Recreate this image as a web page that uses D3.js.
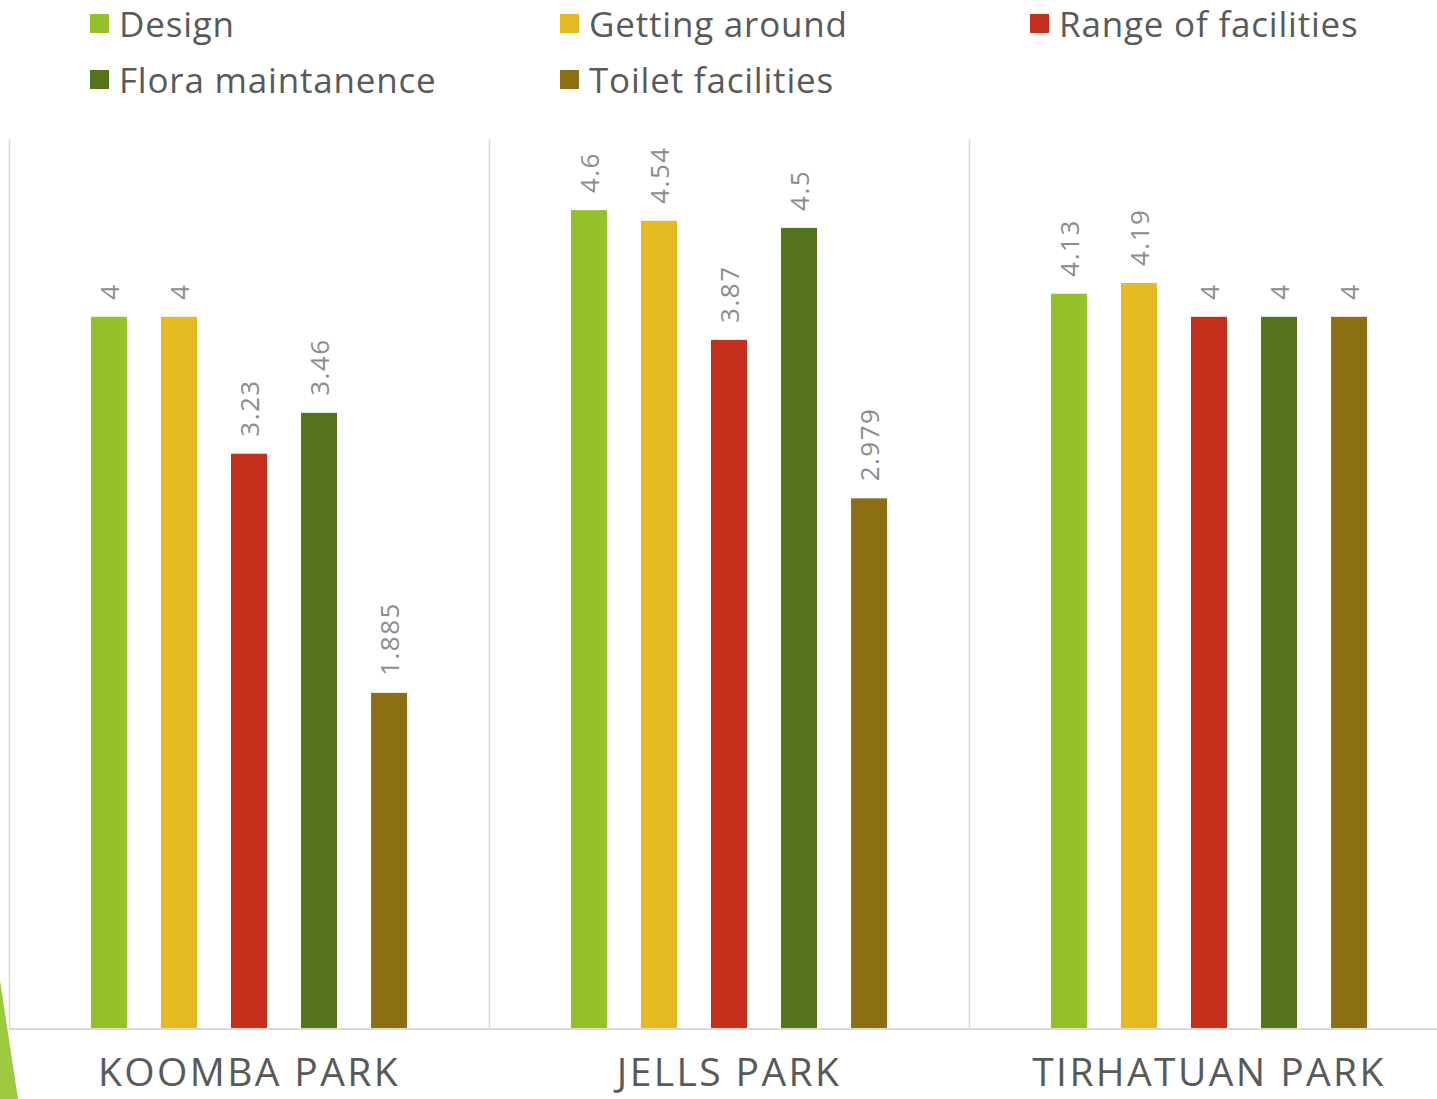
<!DOCTYPE html>
<html><head><meta charset="utf-8">
<script src="https://cdn.jsdelivr.net/npm/d3@7"></script>
<style>
html,body{margin:0;padding:0;background:#fff;}
svg{display:block;}
</style></head>
<body>
<svg id="chart" width="1437" height="1099"></svg>
<script>
const parks = ["KOOMBA PARK", "JELLS PARK", "TIRHATUAN PARK"];
const seriesNames = ["Design", "Getting around", "Range of facilities", "Flora maintanence", "Toilet facilities"];
const seriesColors = ["#93c127", "#e5b920", "#c62f1c", "#55731a", "#8b6f12"];
const design = [4, 4.6, 4.13];
const gettingAround = [4, 4.54, 4.19];
const rangeOfFacilities = [3.23, 3.87, 4];
const floraMaintanence = [3.46, 4.5, 4];
const toiletFacilities = [1.885, 2.979, 4];
const seriesValues = [design, gettingAround, rangeOfFacilities, floraMaintanence, toiletFacilities];

(function() {
const svg = d3.select("#chart");
const plotTop = 139, plotBottom = 1028;

const y = d3.scaleLinear().domain([0, 5]).range([plotBottom, plotTop]);
const x0 = d3.scaleBand().domain(parks).range([9, 1449]).padding(0);
const x1 = d3.scaleBand().domain(seriesNames).range([0, x0.bandwidth()]).paddingInner(0.486).paddingOuter(1.17);

// decorative triangle
svg.append("polygon").attr("points", "0,980 18,1099 0,1099").attr("fill", "#9dc93f");

// vertical separators
svg.append("g").selectAll("line").data(parks).join("line")
  .attr("x1", d => x0(d) + 0.5).attr("x2", d => x0(d) + 0.5)
  .attr("y1", plotTop).attr("y2", plotBottom)
  .attr("stroke", "#d9d9d9").attr("stroke-width", 1.5);

// bars
const groups = svg.append("g").selectAll("g").data(parks).join("g")
  .attr("transform", d => `translate(${x0(d)},0)`);

groups.each(function(park, pi) {
  const g = d3.select(this);
  const data = seriesNames.map((s, si) => ({ s, si, v: seriesValues[si][pi] }));
  g.selectAll("rect").data(data).join("rect")
    .attr("x", d => x1(d.s)).attr("width", x1.bandwidth())
    .attr("y", d => y(d.v)).attr("height", d => y(0) - y(d.v))
    .attr("fill", d => seriesColors[d.si]);
  g.selectAll("text").data(data).join("text")
    .attr("transform", d => `translate(${x1(d.s) + x1.bandwidth() / 2},${y(d.v) - 17}) rotate(-90)`)
    .attr("dominant-baseline", "central")
    .attr("text-anchor", "start")
    .attr("font-family", "Open Sans, sans-serif")
    .attr("font-size", 26)
    .attr("letter-spacing", 1.5)
    .attr("fill", "#8c8c8c")
    .text(d => d.v);
});

// baseline
svg.append("line").attr("x1", 9).attr("x2", 1437).attr("y1", plotBottom + 1).attr("y2", plotBottom + 1)
  .attr("stroke", "#d9d9d9").attr("stroke-width", 2);

// category labels
const xAxis = d3.axisBottom(x0).tickSize(0);
const ax = svg.append("g").attr("transform", `translate(0,${plotBottom})`).call(xAxis);
ax.select(".domain").remove();
ax.selectAll("text")
  .attr("y", 0).attr("dy", 0)
  .attr("transform", "translate(0,58)")
  .attr("font-family", "Open Sans, sans-serif")
  .attr("font-size", 39)
  .attr("letter-spacing", 2.4)
  .attr("fill", "#595959");

// legend
const legendPos = [[90, 24], [560, 24], [1030, 24], [90, 80], [560, 80]];
const lg = svg.append("g").selectAll("g").data(seriesNames).join("g")
  .attr("transform", (d, i) => `translate(${legendPos[i][0]},${legendPos[i][1]})`);
lg.append("rect").attr("x", 0).attr("y", -10).attr("width", 19).attr("height", 19)
  .attr("fill", (d, i) => seriesColors[i]);
lg.append("text").attr("x", 29).attr("y", -1).attr("dominant-baseline", "central")
  .attr("font-family", "Open Sans, sans-serif").attr("font-size", 35)
  .attr("letter-spacing", 0.8)
  .attr("fill", "#595959").text(d => d);
})();
</script>
</body></html>
